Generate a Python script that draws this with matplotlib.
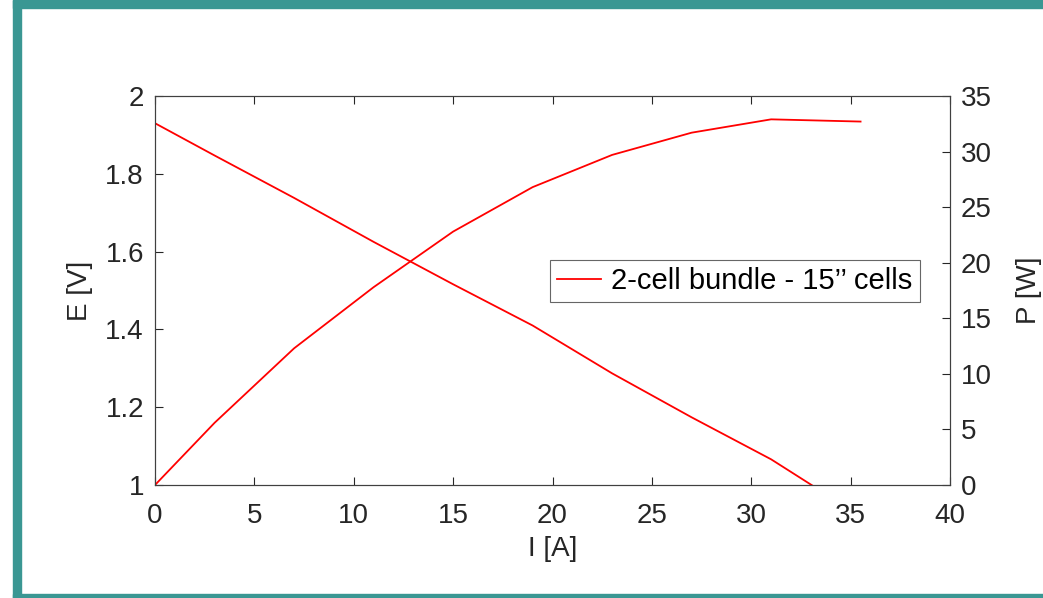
import matplotlib
matplotlib.use("Agg")
import matplotlib.pyplot as plt
from matplotlib.patches import Rectangle

# current [A]
current = [0, 3, 7, 11, 15, 19, 23, 27, 31, 35.5]
# cell voltage E [V]
voltage = [1.93, 1.847, 1.738, 1.625, 1.516, 1.41, 1.287, 1.174, 1.066, 0.92]
# power P [W]
power = [0, 5.6, 12.3, 17.8, 22.8, 26.8, 29.7, 31.7, 32.9, 32.7]

label = "2-cell bundle - 15\u2019\u2019 cells"

plt.rcParams['font.family'] = ['Liberation Sans', 'DejaVu Sans']
W, H = 1043, 598
fig = plt.figure(figsize=(W / 100, H / 100), dpi=100)

# teal frame
teal = '#3a9793'
fig.patches.append(Rectangle((13 / W, 0), 8 / W, 1, transform=fig.transFigure, color=teal, zorder=0))
fig.patches.append(Rectangle((13 / W, 1 - 7.5 / H), 1, 7.5 / H, transform=fig.transFigure, color=teal, zorder=0))
fig.patches.append(Rectangle((13 / W, 0), 1, 4 / H, transform=fig.transFigure, color=teal, zorder=0))

ax = fig.add_axes([155 / W, 1 - 485 / H, (950 - 155) / W, (485 - 96) / H])
ax2 = ax.twinx()

line, = ax.plot(current, voltage, color='#ff0000', lw=1.3, label=label)
ax2.plot(current, power, color='#ff0000', lw=1.3)

ax.set_xlim(0, 40)
ax.set_ylim(1, 2)
ax2.set_ylim(0, 35)
ax.set_xticks(range(0, 41, 5))
ax.set_yticks([1, 1.2, 1.4, 1.6, 1.8, 2])
ax.set_yticklabels(['1', '1.2', '1.4', '1.6', '1.8', '2'])
ax2.set_yticks(range(0, 36, 5))

fs = 20
ax.tick_params(axis='x', direction='in', top=True, length=6, width=0.8, labelsize=fs, pad=13, colors='#262626')
ax.tick_params(axis='y', direction='in', length=6, width=0.8, labelsize=fs, pad=8, colors='#262626')
ax2.tick_params(axis='y', direction='in', length=6, width=0.8, labelsize=fs, pad=8, colors='#262626')
for a in (ax, ax2):
    for s in a.spines.values():
        s.set_color('#404040')
        s.set_linewidth(0.8)

ax.set_xlabel('I [A]', fontsize=fs, color='#262626')
ax.set_ylabel('E [V]', fontsize=fs, color='#262626')
ax2.set_ylabel('P [W]', fontsize=fs, color='#262626')
ax.xaxis.set_label_coords(0.5, (485 - 536) / 389)
ax.yaxis.set_label_coords((93 - 155) / 795, 0.5)
ax2.yaxis.set_label_coords((1016 - 155) / 795, 0.5)

leg = ax.legend(handles=[line], loc='center left', bbox_to_anchor=(550 / W, 1 - 281 / H),
                bbox_transform=fig.transFigure, fontsize=21, frameon=True, fancybox=False,
                handlelength=1.5, handletextpad=0.35, borderpad=0.25, borderaxespad=0)
leg.get_frame().set_edgecolor('#404040')
leg.get_frame().set_linewidth(0.8)

fig.savefig('out.png', dpi=100)
